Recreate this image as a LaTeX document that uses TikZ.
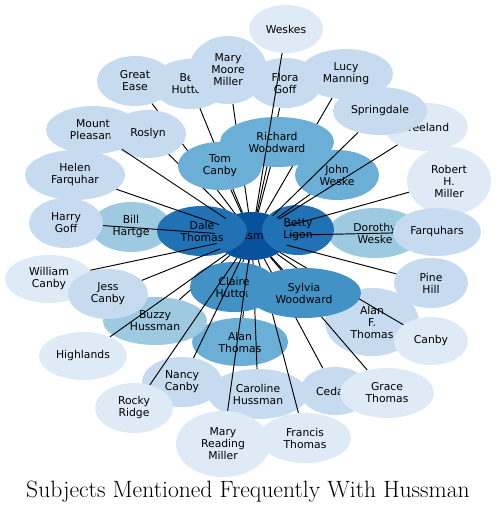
\documentclass[tikz,border=0pt]{standalone}
\usepackage{fontspec}
\newfontfamily\labfont{DejaVu Sans}
\usetikzlibrary{shapes.geometric}
\pgfdeclarelayer{la}\pgfdeclarelayer{lb}\pgfdeclarelayer{lc}
\pgfdeclarelayer{ld}\pgfdeclarelayer{le}\pgfdeclarelayer{lf}
\pgfsetlayers{la,lb,lc,ld,le,lf,main}
\definecolor{cA}{HTML}{DEEBF7}
\definecolor{cB}{HTML}{C6DBEF}
\definecolor{cC}{HTML}{9ECAE1}
\definecolor{cD}{HTML}{6BAED6}
\definecolor{cE}{HTML}{4292C6}
\definecolor{cF}{HTML}{2171B5}
\definecolor{cG}{HTML}{08519C}
\tikzset{
  nd/.style={ellipse, draw=none, inner sep=0pt, align=center, text=black,
    font=\labfont\fontsize{10.8}{12}\selectfont},
  sz/.style 2 args={minimum width=#1pt, minimum height=#2pt},
  lk/.style={draw=black, line width=0.95pt}
}
\begin{document}
\begin{tikzpicture}[x=1pt,y=-1pt]
\useasboundingbox (0,0) rectangle (496,513);
% ---------- nodes ----------
\begin{pgfonlayer}{la}
\node[nd,fill=cG,sz={74}{48}] (hub) at (252,236) {Hussman};
\node[nd,fill=cD,sz={96}{48}] (alan) at (240,342) {Alan\\Thomas};
\node[nd,fill=cB,sz={94}{68}] (alanf) at (372,322) {Alan\\F.\\Thomas};
\node[nd,fill=cB,sz={100}{50}] (caroline) at (258,394) {Caroline\\Hussman};
\node[nd,fill=cC,sz={104}{48}] (buzzy) at (155,321) {Buzzy\\Hussman};
\end{pgfonlayer}
\begin{pgfonlayer}{lc}
\node[nd,fill=cC,sz={80}{50}] (bill) at (131,227) {Bill\\Hartge};
\node[nd,fill=cB,sz={94}{48}] (mount) at (93,130) {Mount\\Pleasant};
\node[nd,fill=cB,sz={76}{50}] (great) at (135,81) {Great\\Ease};
\node[nd,fill=cB,sz={76}{50}] (ben) at (190,84) {Ben\\Hutton};
\node[nd,fill=cB,sz={78}{68}] (mmm) at (228,70) {Mary\\Moore\\Miller};
\node[nd,fill=cB,sz={76}{48}] (roslyn) at (148,134) {Roslyn};
\end{pgfonlayer}
\begin{pgfonlayer}{le}
\node[nd,fill=cD,sz={84}{48}] (tom) at (220,166) {Tom\\Canby};
\node[nd,fill=cD,sz={114}{50}] (rw) at (277,142) {Richard\\Woodward};
\node[nd,fill=cD,sz={84}{50}] (jw) at (337,175) {John\\Weske};
\node[nd,fill=cE,sz={88}{50}] (claire) at (234,287) {Claire\\Hutton};
\node[nd,fill=cE,sz={114}{50}] (sylvia) at (304,293) {Sylvia\\Woodward};
\node[nd,fill=cC,sz={94}{50}] (dorothy) at (375,233) {Dorothy\\Weske};
\node[nd,fill=cF,sz={90}{50}] (dale) at (202,231) {Dale\\Thomas};
\node[nd,fill=cF,sz={72}{50}] (betty) at (298,230) {Betty\\Ligon};
\end{pgfonlayer}
\begin{pgfonlayer}{lf}
\node[nd,fill=cB,sz={100}{50}] (helen) at (75,175) {Helen\\Farquhar};
\node[nd,fill=cB,sz={74}{50}] (harry) at (66,223) {Harry\\Goff};
\node[nd,fill=cA,sz={88}{48}] (william) at (49,279) {William\\Canby};
\node[nd,fill=cB,sz={80}{50}] (jess) at (108,294) {Jess\\Canby};
\node[nd,fill=cA,sz={88}{48}] (high) at (83,356) {Highlands};
\node[nd,fill=cB,sz={80}{50}] (nancy) at (182,382) {Nancy\\Canby};
\node[nd,fill=cA,sz={78}{50}] (rocky) at (134,408) {Rocky\\Ridge};
\node[nd,fill=cA,sz={92}{50}] (francis) at (305,438) {Francis\\Thomas};
\node[nd,fill=cA,sz={94}{66}] (mrm) at (223,444) {Mary\\Reading\\Miller};
\node[nd,fill=cB,sz={70}{48}] (cedar) at (335,391) {Cedars};
\node[nd,fill=cA,sz={94}{50}] (grace) at (387,393) {Grace\\Thomas};
\node[nd,fill=cA,sz={74}{48}] (canby) at (431,341) {Canby};
\node[nd,fill=cB,sz={74}{50}] (pine) at (431,283) {Pine\\Hill};
\node[nd,fill=cA,sz={84}{68}] (rhm) at (449,181) {Robert\\H.\\Miller};
\node[nd,fill=cB,sz={88}{48}] (farq) at (437,232) {Farquhars};
\node[nd,fill=cA,sz={84}{48}] (free) at (426,127) {Freeland};
\node[nd,fill=cB,sz={94}{48}] (spring) at (380,111) {Springdale};
\node[nd,fill=cB,sz={94}{50}] (lucy) at (346,74) {Lucy\\Manning};
\node[nd,fill=cB,sz={74}{50}] (flora) at (285,83) {Flora\\Goff};
\node[nd,fill=cA,sz={74}{48}] (weskes) at (286,29) {Weskes};
\end{pgfonlayer}
% ---------- connectors ----------
\begin{pgfonlayer}{lb}
\foreach \n in {caroline,francis,cedar,grace,canby,alanf,alan,buzzy,great,mmm,flora,lucy,ben,dorothy,dale,betty,tom,rw,claire,sylvia,bill}
  \draw[lk] (\n) -- (hub);
\end{pgfonlayer}
\begin{pgfonlayer}{ld}
\draw[lk] (roslyn) -- (hub);
\end{pgfonlayer}
\foreach \n in {weskes,mount,helen,harry,william,jess,high,nancy,rocky,mrm,pine,farq,rhm,free,spring,jw}
  \draw[lk] (\n) -- (hub);
% ---------- title ----------
\node[anchor=base, font=\fontsize{23.6}{26}\selectfont] (title) at (248,497.5) {Subjects Mentioned Frequently With Hussman};
\end{tikzpicture}
\end{document}
